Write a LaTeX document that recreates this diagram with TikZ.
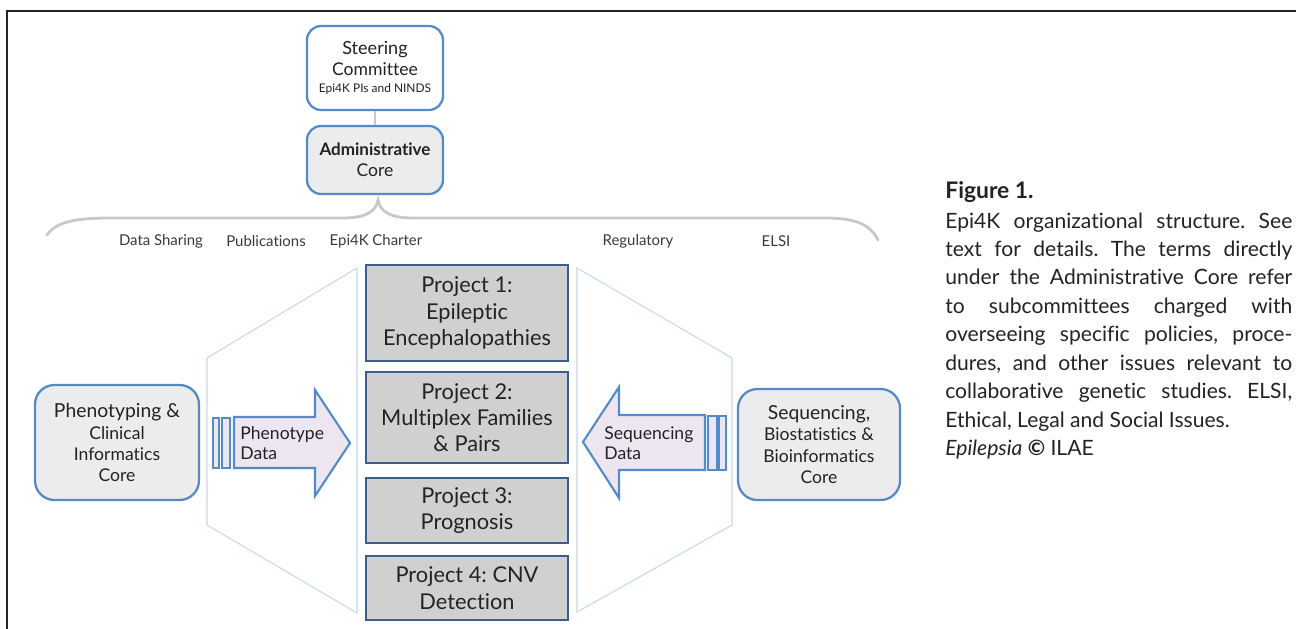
\documentclass[tikz,border=0pt]{standalone}
\usepackage{fontspec}
\setmainfont{Lato}[Ligatures=NoCommon]
\frenchspacing

\definecolor{coreblue}{RGB}{84,139,199}
\definecolor{corefill}{RGB}{236,236,236}
\definecolor{projfill}{RGB}{208,208,208}
\definecolor{projedge}{RGB}{62,94,138}
\definecolor{arrowfill}{RGB}{237,229,239}
\definecolor{hexline}{RGB}{196,216,235}
\definecolor{bracegray}{RGB}{200,200,200}
\definecolor{inkgray}{RGB}{35,35,35}

\begin{document}
\begin{tikzpicture}[x=0.02cm, y=-0.02cm,
  corebox/.style={draw=coreblue, line width=1.3pt, fill=corefill, align=center, text=inkgray, inner sep=0pt},
  projbox/.style={draw=projedge, line width=1.5pt, fill=projfill, align=center, text=inkgray, inner sep=0pt,
    minimum width=4.04cm, font=\fontsize{12.4}{15}\selectfont},
  flowarrow/.style={draw=coreblue, line width=1.2pt, fill=arrowfill, line join=miter},
  flowtext/.style={align=left, anchor=west, text=inkgray, inner sep=0pt, font=\fontsize{10}{11.5}\selectfont},
  termlabel/.style={text=inkgray!90, inner sep=0pt, font=\fontsize{8.5}{10}\selectfont},
  hexframe/.style={draw=hexline, line width=0.6pt}]

\useasboundingbox (0,0) rectangle (1296,629);
\draw[line width=1.7pt, inkgray] (1296,11) -- (7,11) -- (7,629);

% governance
\node[corebox, fill=white, rounded corners=8pt, minimum width=2.72cm, minimum height=1.68cm] (steer) at (375,68)
  {\fontsize{10.3}{13}\selectfont Steering\\Committee\\[-2pt]{\fontsize{6.8}{8}\selectfont Epi4K PIs and NINDS}};
\node[corebox, rounded corners=8pt, minimum width=2.72cm, minimum height=1.36cm] (admin) at (375,160)
  {\fontsize{9.7}{11.3}\selectfont\bfseries Administrative\\Core};
\draw[line width=1.2pt, bracegray] (steer) -- (admin);

% subcommittee brace
\draw[line width=1.6pt, bracegray, line cap=round]
  (47,235) .. controls (56,222) and (75,218) .. (110,218) -- (343,218)
  .. controls (365,218) and (376,212) .. (378,200)
  .. controls (380,212) and (391,218) .. (413,218) -- (825,218)
  .. controls (855,218) and (870,224) .. (878,240);
\node[termlabel] (datashare) at (161,241) {Data Sharing};
\node[termlabel] (pubs) at (266,241) {Publications};
\node[termlabel] (charter) at (376,241) {Epi4K Charter};
\node[termlabel] (regul) at (638,241) {Regulatory};
\node[termlabel] (elsi) at (776,241) {ELSI};

% funnels
\draw[hexframe] (357,268) -- (207,358) -- (207,525) -- (357,613) -- cycle;
\draw[hexframe] (577,268) -- (732,358) -- (732,525) -- (577,612) -- cycle;

% projects
\node[projbox, minimum height=1.92cm] (proj1) at (467,313) {Project 1:\\Epileptic\\Encephalopathies};
\node[projbox, minimum height=1.82cm] (proj2) at (467,417.5) {Project 2:\\Multiplex Families\\\& Pairs};
\node[projbox, minimum height=1.30cm] (proj3) at (467,510.5) {Project 3:\\Prognosis};
\node[projbox, minimum height=1.28cm] (proj4) at (467,588) {Project 4: CNV\\Detection};

% cores
\node[corebox, rounded corners=11pt, minimum width=3.28cm, minimum height=2.30cm] (phenocore) at (117,442.5)
  {\fontsize{11}{12.3}\selectfont Phenotyping \&\\Clinical\\Informatics\\Core};
\node[corebox, rounded corners=11pt, minimum width=3.24cm, minimum height=2.22cm] (seqcore) at (819,444.5)
  {\fontsize{11}{12.3}\selectfont Sequencing,\\Biostatistics \&\\Bioinformatics\\Core};

% data arrows
\draw[flowarrow] (213,418) rectangle (219,468);
\draw[flowarrow] (222,418) rectangle (230,468);
\draw[flowarrow] (234,417) -- (315,417) -- (315,390) -- (350,443) -- (315,496) -- (315,468) -- (234,468) -- cycle;
\node[flowtext] (phenodata) at (240,443) {Phenotype\\Data};

\draw[flowarrow] (708,416) rectangle (717,470);
\draw[flowarrow] (719,416) rectangle (726,470);
\draw[flowarrow] (705,415) -- (619,415) -- (619,387) -- (583,442) -- (619,498) -- (619,470) -- (705,470) -- cycle;
\node[flowtext] (seqdata) at (604,443) {Sequencing\\Data};

% caption
\node[anchor=base west, inner sep=0pt, text=inkgray, font=\fontsize{13}{16}\selectfont\bfseries] (figtitle) at (945,198) {Figure 1.};
\node[anchor=base west, inner sep=0pt, text=inkgray, text width=6.94cm, align=justify,
  font=\fontsize{12}{16.2}\selectfont] (figtext) at (945,228)
  {Epi4K organizational structure. See\linebreak
   text for details. The terms directly\linebreak
   under the Administrative Core refer\linebreak
   to subcommittees charged with\linebreak
   overseeing specific policies, proce-\linebreak
   dures, and other issues relevant to\linebreak
   collaborative genetic studies. ELSI,\linebreak
   Ethical, Legal and Social Issues.\\
   \textit{Epilepsia} {\bfseries ©} ILAE};
\end{tikzpicture}
\end{document}
